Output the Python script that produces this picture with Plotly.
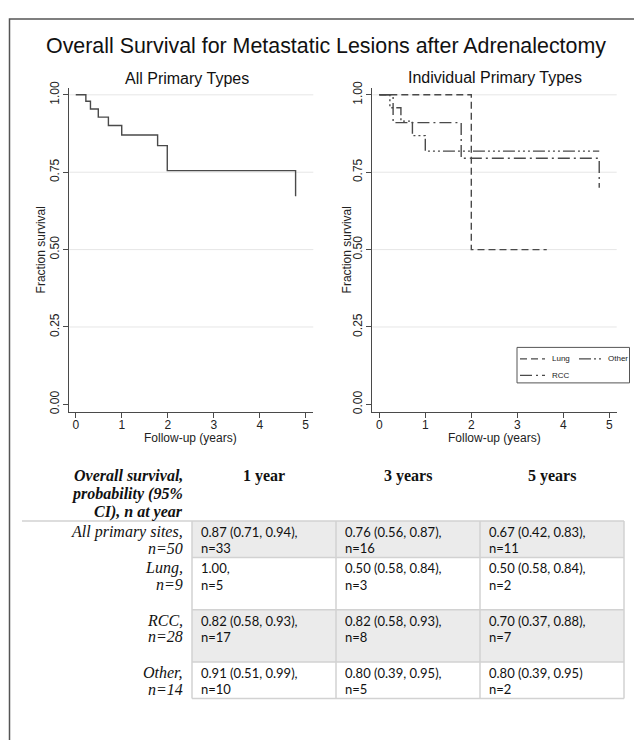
import plotly.graph_objects as go

# Page is rendered with an 8px body margin; figure sized to fit the 642x740 window.
OFF = 8
W, H = 642 - OFF, 740 - OFF

# ---------------- data ----------------
all_t = [0, 0.22, 0.32, 0.49, 0.71, 1.0, 1.78, 1.99, 4.78]
all_s = [1.0, 0.979, 0.954, 0.928, 0.901, 0.870, 0.836, 0.755, 0.672]

lung_t = [0, 2.0, 3.64]
lung_s = [1.0, 0.5, 0.5]

rcc_t = [0, 0.30, 1.78, 4.78]
rcc_s = [1.0, 0.91, 0.795, 0.70]

other_t = [0, 0.23, 0.47, 0.72, 1.0, 4.78]
other_s = [1.0, 0.958, 0.915, 0.868, 0.818, 0.818]

x_ticks = [0, 1, 2, 3, 4, 5]
y_ticks = [0, 0.25, 0.5, 0.75, 1.0]
y_ticklabels = ["0.00", "0.25", "0.50", "0.75", "1.00"]

title_main = "Overall Survival for Metastatic Lesions after Adrenalectomy"
sub_titles = ["All Primary Types", "Individual Primary Types"]

hdr_label = ["Overall survival,", "probability (95%", "CI), n at year"]
years_hdr = ["1 year", "3 years", "5 years"]
row_labels = [["All primary sites,", "n=50"], ["Lung,", "n=9"], ["RCC,", "n=28"], ["Other,", "n=14"]]
cell_vals = [
    ["0.87 (0.71, 0.94),", "0.76 (0.56, 0.87),", "0.67 (0.42, 0.83),"],
    ["1.00,", "0.50 (0.58, 0.84),", "0.50 (0.58, 0.84),"],
    ["0.82 (0.58, 0.93),", "0.82 (0.58, 0.93),", "0.70 (0.37, 0.88),"],
    ["0.91 (0.51, 0.99),", "0.80 (0.39, 0.95),", "0.80 (0.39, 0.95)"],
]
cell_n = [
    ["n=33", "n=16", "n=11"],
    ["n=5", "n=3", "n=2"],
    ["n=17", "n=8", "n=7"],
    ["n=10", "n=5", "n=2"],
]

# ---------------- helpers (page pixel -> paper) ----------------
def PX(x):
    return (x - OFF) / W

def PY(y):
    return 1 - (y - OFF) / H

LINE_C = "#4a4a4a"
TXT_C = "#222222"
SANS = "Liberation Sans, Arial, sans-serif"
SERIF = "Liberation Serif, Times New Roman, serif"
CELLF = "Lato, Open Sans, sans-serif"

DASH_LUNG = "7px,4px"
DASH_RCC = "12px,4px,2px,4px"
DASH_OTHER = "12px,3px,2px,3px,2px,3px,2px,3px"

fig = go.Figure()

fig.add_trace(go.Scatter(x=all_t, y=all_s, mode="lines", line=dict(shape="hv", color=LINE_C, width=1.4),
                         xaxis="x", yaxis="y", showlegend=False))
fig.add_trace(go.Scatter(x=lung_t, y=lung_s, mode="lines", line=dict(shape="hv", color=LINE_C, width=1.4, dash=DASH_LUNG),
                         xaxis="x2", yaxis="y2", name="Lung", showlegend=False))
fig.add_trace(go.Scatter(x=other_t, y=other_s, mode="lines", line=dict(shape="hv", color=LINE_C, width=1.4, dash=DASH_OTHER),
                         xaxis="x2", yaxis="y2", name="Other", showlegend=False))
fig.add_trace(go.Scatter(x=rcc_t, y=rcc_s, mode="lines", line=dict(shape="hv", color=LINE_C, width=1.4, dash=DASH_RCC),
                         xaxis="x2", yaxis="y2", name="RCC", showlegend=False))

ydom = [PY(410), PY(81.7)]
common_x = dict(range=[-0.14, 5.165], tickvals=x_ticks, ticks="outside", ticklen=5, tickcolor=LINE_C,
                showline=True, linecolor=LINE_C, linewidth=1, showgrid=False, zeroline=False,
                ticklabelstandoff=-3,
                tickfont=dict(family=SANS, size=12, color=TXT_C), fixedrange=True)
common_y = dict(range=[-0.023, 1.023], tickvals=y_ticks, ticktext=y_ticklabels, ticks="outside", ticklen=5,
                tickcolor=LINE_C, showline=True, linecolor=LINE_C, linewidth=1, showgrid=False, zeroline=False,
                tickangle=-90, tickfont=dict(family=SANS, size=12, color=TXT_C), domain=ydom, fixedrange=True)

layout = dict(
    width=W, height=H, margin=dict(l=0, r=0, t=0, b=0),
    paper_bgcolor="white", plot_bgcolor="white",
    xaxis=dict(common_x, domain=[PX(69.3), PX(313.3)], anchor="y"),
    yaxis=dict(common_y, anchor="x"),
    xaxis2=dict(common_x, domain=[PX(372.3), PX(616.7)], range=[-0.152, 5.16], anchor="y2"),
    yaxis2=dict(common_y, anchor="x2"),
)
fig.update_layout(**layout)

shapes = []
annotations = []

# gridlines
for ax in ["", "2"]:
    for v in y_ticks[1:]:
        shapes.append(dict(type="line", xref=f"x{ax} domain", x0=0, x1=1, yref=f"y{ax}", y0=v, y1=v,
                           line=dict(color="#e6e6e6", width=1), layer="below"))

# outer border
shapes.append(dict(type="rect", xref="paper", yref="paper", x0=PX(9.5), x1=PX(640.5), y0=PY(760), y1=PY(12),
                   line=dict(color="#555555", width=1.5)))

# titles
annotations.append(dict(text=title_main, x=PX(325.5), y=PY(39), xref="paper", yref="paper", showarrow=False,
                        xanchor="center", yanchor="middle", font=dict(family=SANS, size=21.4, color="#111")))
for txt, cx, cy in [(sub_titles[0], 186.7, 72.7), (sub_titles[1], 494.5, 71)]:
    annotations.append(dict(text=txt, x=PX(cx), y=PY(cy), xref="paper", yref="paper", showarrow=False,
                            xanchor="center", yanchor="middle", font=dict(family=SANS, size=16, color="#111")))
for cx in [190.7, 494.3]:
    annotations.append(dict(text="Follow-up (years)", x=PX(cx), y=PY(437), xref="paper", yref="paper",
                            showarrow=False, xanchor="center", yanchor="middle",
                            font=dict(family=SANS, size=12, color=TXT_C)))
for cx in [40.7, 346.7]:
    annotations.append(dict(text="Fraction survival", x=PX(cx), y=PY(246), xref="paper", yref="paper",
                            showarrow=False, textangle=-90, xanchor="center", yanchor="middle",
                            font=dict(family=SANS, size=12, color=TXT_C)))

# legend (manual)
shapes.append(dict(type="rect", xref="paper", yref="paper", x0=PX(517), x1=PX(629.5), y0=PY(381), y1=PY(345),
                   line=dict(color="#555555", width=1), fillcolor="white"))
leg_items = [("Lung", DASH_LUNG, 520, 545, 550, 356.7),
             ("Other", DASH_OTHER, 579, 601, 606, 356.7),
             ("RCC", DASH_RCC, 520, 545, 550, 373.3)]
for name, dash, x0, x1, tx, ly in leg_items:
    shapes.append(dict(type="line", xref="paper", yref="paper", x0=PX(x0), x1=PX(x1), y0=PY(ly), y1=PY(ly),
                       line=dict(color=LINE_C, width=1.2, dash=dash)))
    annotations.append(dict(text=name, x=PX(tx), y=PY(ly), xref="paper", yref="paper", showarrow=False,
                            xanchor="left", yanchor="middle",
                            font=dict(family="Liberation Sans Narrow, Liberation Sans, Arial", size=8, color=TXT_C)))

# ---------------- table ----------------
col_x = [192, 336, 480, 624]
row_y = [521, 558, 611, 664, 701]
label_right = 185
GRID_C = "#d2d2d2"

for r in range(4):
    if r % 2 == 0:
        shapes.append(dict(type="rect", xref="paper", yref="paper", x0=PX(col_x[0]), x1=PX(col_x[-1]),
                           y0=PY(row_y[r + 1]), y1=PY(row_y[r]), fillcolor="#ebebeb",
                           line=dict(width=0), layer="below"))
# horizontal lines
shapes.append(dict(type="line", xref="paper", yref="paper", x0=PX(22), x1=PX(col_x[-1]),
                   y0=PY(row_y[0]), y1=PY(row_y[0]), line=dict(color=GRID_C, width=1.5)))
for yv in row_y[1:]:
    shapes.append(dict(type="line", xref="paper", yref="paper", x0=PX(col_x[0]), x1=PX(col_x[-1]),
                       y0=PY(yv), y1=PY(yv), line=dict(color=GRID_C, width=1.5)))
for xv in col_x:
    shapes.append(dict(type="line", xref="paper", yref="paper", x0=PX(xv), x1=PX(xv),
                       y0=PY(row_y[-1]), y1=PY(row_y[0]), line=dict(color=GRID_C, width=1.5)))

# header
for i, line in enumerate(hdr_label):
    annotations.append(dict(text=f"<b><i>{line}</i></b>", x=PX(label_right), y=PY(475 + 18.5 * i),
                            xref="paper", yref="paper", showarrow=False, xanchor="right", yanchor="middle",
                            font=dict(family=SERIF, size=16, color="#111")))
for c, yh in enumerate(years_hdr):
    cx = (col_x[c] + col_x[c + 1]) / 2
    annotations.append(dict(text=f"<b>{yh}</b>", x=PX(cx), y=PY(475), xref="paper", yref="paper",
                            showarrow=False, xanchor="center", yanchor="middle",
                            font=dict(family=SERIF, size=16, color="#111")))

for r in range(4):
    top = row_y[r]
    for k, line in enumerate(row_labels[r]):
        annotations.append(dict(text=f"<i>{line}</i>", x=PX(label_right), y=PY(top + 11 + 16.5 * k),
                                xref="paper", yref="paper", showarrow=False, xanchor="right", yanchor="middle",
                                font=dict(family=SERIF, size=16, color="#111")))
    for c in range(3):
        for k, line in enumerate([cell_vals[r][c], cell_n[r][c]]):
            annotations.append(dict(text=line, x=PX(col_x[c] + 7), y=PY(top + 11 + 16.5 * k),
                                    xref="paper", yref="paper", showarrow=False, xanchor="left",
                                    yanchor="middle", font=dict(family=CELLF, size=13, color="#111")))

fig.update_layout(shapes=shapes, annotations=annotations)
fig.write_html("out.html")
